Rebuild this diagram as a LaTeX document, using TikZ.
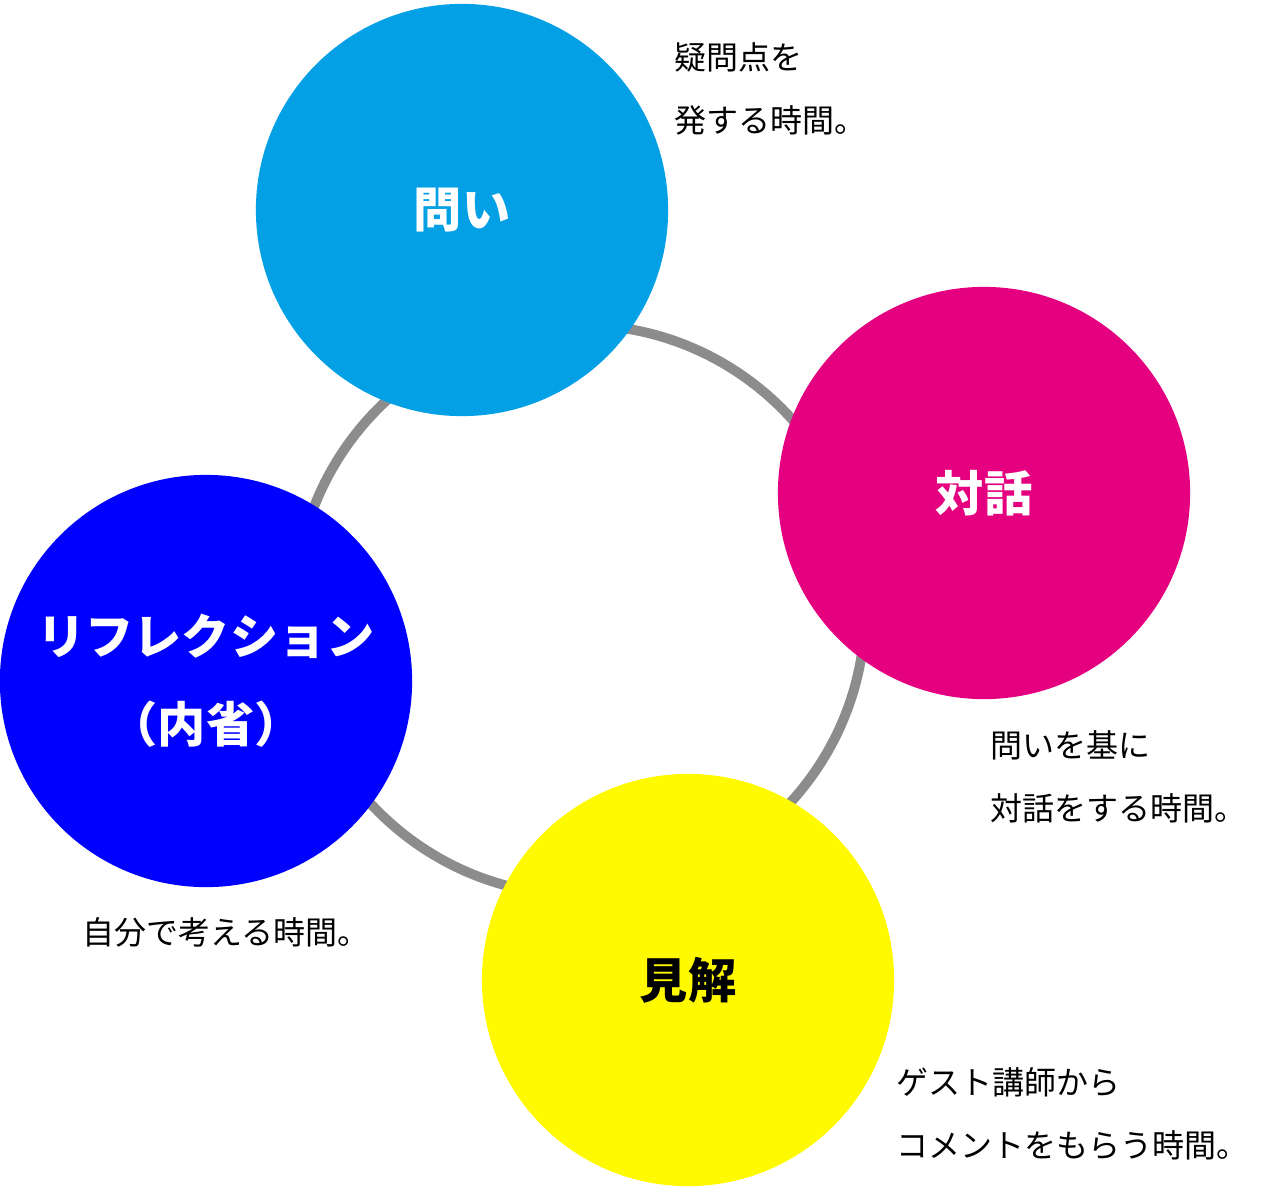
\documentclass[tikz,border=0pt]{standalone}
\usepackage{fontspec}
\setmainfont{Noto Sans CJK JP}
\newfontfamily\jpbold[FakeBold=0]{Noto Sans CJK JP Bold}
\begin{document}
\begin{tikzpicture}[x=0.01cm,y=-0.01cm,
  topic/.style={circle, minimum size=4.12cm, inner sep=0pt},
  title/.style={text=white, font=\fontsize{13.7}{22}\selectfont\bfseries, align=center},
  note/.style={font=\fontsize{9.1}{18}\selectfont, align=left, anchor=north west}]
\useasboundingbox (0,0) rectangle (1268,1191);
\coordinate (hub) at (580,610);
\draw[line width=2.8pt, gray!90] (hub) circle[radius=2.85cm];
\node[topic, fill={rgb,255:red,3;green,160;blue,230}] (toi) at (462,210) {};
\node[topic, fill={rgb,255:red,228;green,0;blue,127}] (taiwa) at (984,493) {};
\node[topic, fill={rgb,255:red,0;green,0;blue,255}] (refl) at (206,681) {};
\node[topic, fill={rgb,255:red,255;green,250;blue,0}] (kenkai) at (688,980) {};
\node[title] at (toi) {問い};
\node[title] at (taiwa) {対話};
\node[title, font=\fontsize{13.7}{25}\selectfont\bfseries] at (refl) {リフレクション\\（内省）};
\node[title, text=black] at (kenkai) {見解};
\node[note] (toi-note) at (662,30) {疑問点を\\発する時間。};
\node[note] (taiwa-note) at (978,718) {問いを基に\\対話をする時間。};
\node[note] (refl-note) at (70,905) {自分で考える時間。};
\node[note] (kenkai-note) at (884,1055) {ゲスト講師から\\コメントをもらう時間。};
\end{tikzpicture}
\end{document}
